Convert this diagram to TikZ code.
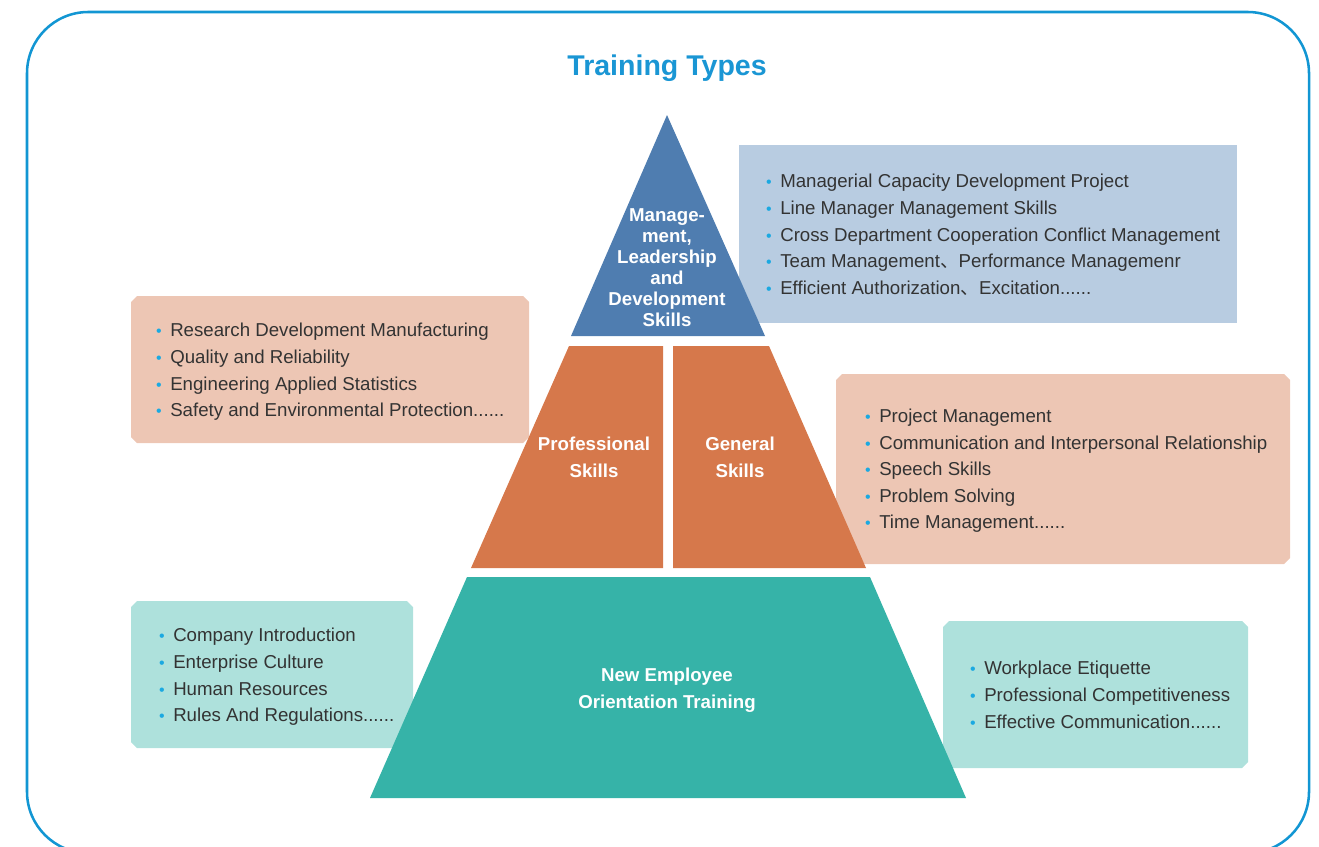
\documentclass[tikz,border=0pt]{standalone}
\usepackage{fontspec}
\setmainfont{Liberation Sans}
\newfontfamily\cjk{Noto Sans CJK SC}
\definecolor{frame}{HTML}{1296D3}
\definecolor{ttl}{HTML}{1A96D4}
\definecolor{bluetri}{HTML}{4F7DB0}
\definecolor{bluebox}{HTML}{B8CCE1}
\definecolor{orng}{HTML}{D6784B}
\definecolor{pinkbox}{HTML}{EDC6B4}
\definecolor{tealtr}{HTML}{36B3A8}
\definecolor{tealbox}{HTML}{AEE1DC}
\definecolor{txt}{HTML}{333333}
\definecolor{bul}{HTML}{1BA9E1}
\newcommand\cutbox[5]{\fill[#1] ({#2+6},#3) -- ({#4-6},#3) -- (#4,{#3+6}) -- (#4,{#5-6}) -- ({#4-6},#5) -- ({#2+6},#5) -- (#2,{#5-6}) -- (#2,{#3+6}) -- cycle;}
\newcommand\bulmark{\llap{\textcolor{bul}{\fontsize{12}{12}\selectfont\textbullet}\hspace{6.5pt}}}
\newcommand\dun{{\cjk 、}}
\newcommand\sixdots{......}
\tikzset{
  item/.style={anchor=base west, inner sep=0pt, text=txt, font=\fontsize{14}{20}\selectfont},
  lab/.style={align=center, inner sep=0pt, text=white, font=\bfseries\fontsize{14}{20}\selectfont},
}
\begin{document}
\begin{tikzpicture}[x=0.75pt,y=-0.75pt]
\clip (0,0) rectangle (1319,846);
\draw[frame, line width=1.9pt, rounded corners=46pt] (27,12) rectangle (1309,853);
\node[anchor=base, text=ttl, font=\bfseries\fontsize{21.4}{24}\selectfont, inner sep=0pt] (title) at (667,75) {Training Types};
% boxes
\fill[bluebox] (739,145) rectangle (1237,323);
\cutbox{pinkbox}{131}{296}{529}{443}
\cutbox{pinkbox}{836}{374}{1290}{564}
\cutbox{tealbox}{131}{601}{413}{748}
\cutbox{tealbox}{943}{621}{1248}{768}
% lists
\foreach \t [count=\i] in {{Managerial Capacity Development Project}, {Line Manager Management Skills}, {Cross Department Cooperation Conflict Management}, {Team Management\dun Performance Managemenr}, {Efficient Authorization\dun Excitation\sixdots}}
  \node[item] (ma\i) at (780,{181+6.7+(\i-1)*26.75}) {\bulmark\t};
\foreach \t [count=\i] in {{Research Development Manufacturing}, {Quality and Reliability}, {Engineering Applied Statistics}, {Safety and Environmental Protection\sixdots}}
  \node[item] (pr\i) at (170,{330+6.7+(\i-1)*26.7}) {\bulmark\t};
\foreach \t [count=\i] in {{Project Management}, {Communication and Interpersonal Relationship}, {Speech Skills}, {Problem Solving}, {Time Management\sixdots}}
  \node[item] (ge\i) at (879,{416+6.7+(\i-1)*26.5}) {\bulmark\t};
\foreach \t [count=\i] in {{Company Introduction}, {Enterprise Culture}, {Human Resources}, {Rules And Regulations\sixdots}}
  \node[item] (ne\i) at (173,{635+6.7+(\i-1)*26.7}) {\bulmark\t};
\foreach \t [count=\i] in {{Workplace Etiquette}, {Professional Competitiveness}, {Effective Communication\sixdots}}
  \node[item] (wo\i) at (984,{668+6.7+(\i-1)*27}) {\bulmark\t};
% pyramid
\fill[bluetri] (667,115) -- (765,336) -- (571,336) -- cycle;
\fill[orng] (569,346) -- (663,346) -- (663,568) -- (471,568) -- cycle;
\fill[orng] (673,346) -- (769,346) -- (866,568) -- (673,568) -- cycle;
\fill[tealtr] (467,577) -- (870,577) -- (966,798) -- (370,798) -- cycle;
\node[lab, font=\bfseries\fontsize{14}{15.75}\selectfont] (top) at (667,268) {Manage-\\ment,\\Leadership\\and\\Development\\Skills};
\node[lab] (prof) at (594,457) {Professional\\Skills};
\node[lab] (gen) at (740,457) {General\\Skills};
\node[lab] (newe) at (667,690) {New Employee\\Orientation Training};
\end{tikzpicture}
\end{document}
